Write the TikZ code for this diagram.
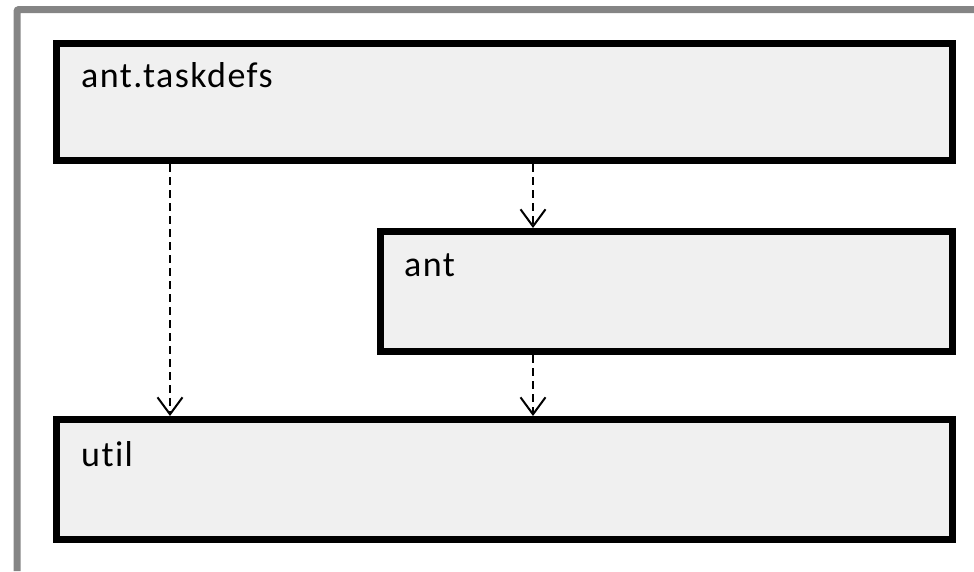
\documentclass[tikz,border=0pt]{standalone}
\usepackage{fontspec}
\setmainfont{Carlito}[LetterSpace=4, Ligatures={NoCommon}]
\usetikzlibrary{arrows.meta}
\definecolor{boxfill}{HTML}{F0F0F0}
\definecolor{framegray}{HTML}{858585}
\tikzset{
  pkg/.style={draw=black, line width=7pt, fill=boxfill, rectangle, inner sep=0pt, outer sep=3.5pt},
  pkglabel/.style={anchor=base west, inner sep=0pt, font=\fontsize{36}{42}\selectfont},
  dep/.style={draw=black, line width=2pt, dash pattern=on 8pt off 5pt,
    -{Straight Barb[length=17pt, width=25pt, line width=2pt]}}
}
\begin{document}
\begin{tikzpicture}[x=1pt, y=-1pt]
\useasboundingbox (0,0) rectangle (974,571);
\draw[framegray, line width=7pt, rounded corners=2pt] (17,571) -- (17,9.5) -- (974,9.5);
\node[pkg, minimum width=896pt, minimum height=117pt] (taskdefs) at (504.5,102) {};
\node[pkg, minimum width=572pt, minimum height=120pt] (ant) at (666.5,291.5) {};
\node[pkg, minimum width=896pt, minimum height=120pt] (util) at (504.5,479.5) {};
\node[pkglabel] (taskdefslabel) at (81,87) {ant.taskdefs};
\node[pkglabel] (antlabel) at (404,276) {ant};
\node[pkglabel] (utillabel) at (81,466) {util};
\coordinate (xl) at (170,0);
\coordinate (xm) at (533,0);
\draw[dep] (taskdefs.south -| xl) -- (util.north -| xl);
\draw[dep] (taskdefs.south -| xm) -- (ant.north -| xm);
\draw[dep] (ant.south -| xm) -- (util.north -| xm);
\end{tikzpicture}
\end{document}
